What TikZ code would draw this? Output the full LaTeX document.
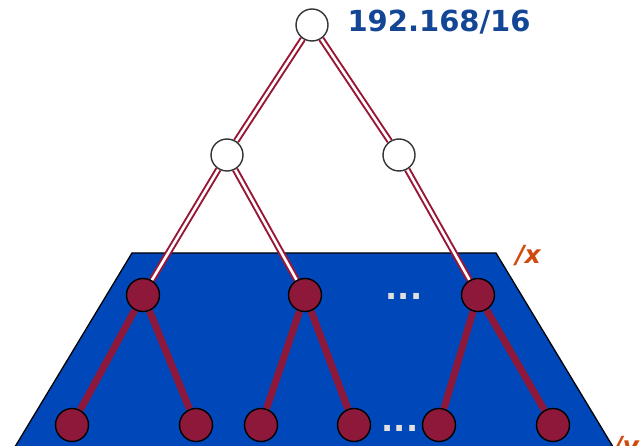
\documentclass[tikz,border=0pt]{standalone}
\usepackage{fontspec}
\usepackage{tikz}
\newfontfamily\labelfont{DejaVu Sans}
\definecolor{wine}{RGB}{142,24,58}
\definecolor{area}{RGB}{0,72,186}
\definecolor{prefix}{RGB}{20,70,150}
\definecolor{level}{RGB}{208,74,14}
\pgfdeclarelayer{base}
\pgfdeclarelayer{edges}
\pgfsetlayers{base,edges,main}
\tikzstyle{upper}=[circle, draw=black!80, fill=white, line width=1.4pt, minimum size=32pt, inner sep=0pt]
\tikzstyle{lower}=[circle, draw=black, fill=wine, line width=1.4pt, minimum size=33pt, inner sep=0pt]
\tikzstyle{link}=[draw=wine!90!red, double=white, line width=2pt, double distance=2.6pt]
\tikzstyle{branch}=[draw=wine, line width=7pt]
\tikzstyle{more}=[text=black!12, anchor=base, font=\labelfont\bfseries\fontsize{32}{32}\selectfont]

\begin{document}
\begin{tikzpicture}[x=1pt, y=-1pt]
                    \clip (0, 0) rectangle (640, 446);
                    \node[upper] (r) at (312, 25) {};
                    \node[upper] (m1) at (227, 155) {};
                    \node[upper] (m2) at (399, 155) {};
                    \node[lower] (l1) at (143, 295) {};
                    \node[lower] (l2) at (305, 295) {};
                    \node[lower] (l3) at (478, 295) {};
                    \node[lower] (b1) at (72, 425) {};
                    \node[lower] (b2) at (196, 425) {};
                    \node[lower] (b3) at (261, 425) {};
                    \node[lower] (b4) at (354, 425) {};
                    \node[lower] (b5) at (439, 425) {};
                    \node[lower] (b6) at (553, 425) {};
                    \node[more] (d1) at (404, 300) {...};
                    \node[more] (d2) at (400, 431) {...};
                    \node[anchor=west, text=prefix, font=\labelfont\bfseries\fontsize{29}{29}\selectfont] (p) at (344, 22) {192.168/16};
                    \node[anchor=west, text=level, font=\labelfont\bfseries\itshape\fontsize{25}{25}\selectfont] (x) at (512, 256) {/x};
                    \node[anchor=west, text=level, font=\labelfont\bfseries\itshape\fontsize{25}{25}\selectfont] (y) at (610, 448) {/y};
                    % area and tree edges behind the nodes
                    \begin{pgfonlayer}{base}
                    \fill[area, draw=black, line width=1.3pt]
                        (132, 253) -- (496, 253) -- (627, 470) -- (1, 470) -- cycle;
                    \end{pgfonlayer}
                    \begin{pgfonlayer}{edges}
                    \path[link]
                        (r)--(m1) (r)--(m2)
                        (m1)--(l1) (m1)--(l2) (m2)--(l3)
                    ;
                    \path[branch]
                        (l1)--(b1) (l1)--(b2) (l2)--(b3)
                        (l2)--(b4) (l3)--(b5) (l3)--(b6)
                    ;
                    \end{pgfonlayer}
                \end{tikzpicture}
\end{document}
